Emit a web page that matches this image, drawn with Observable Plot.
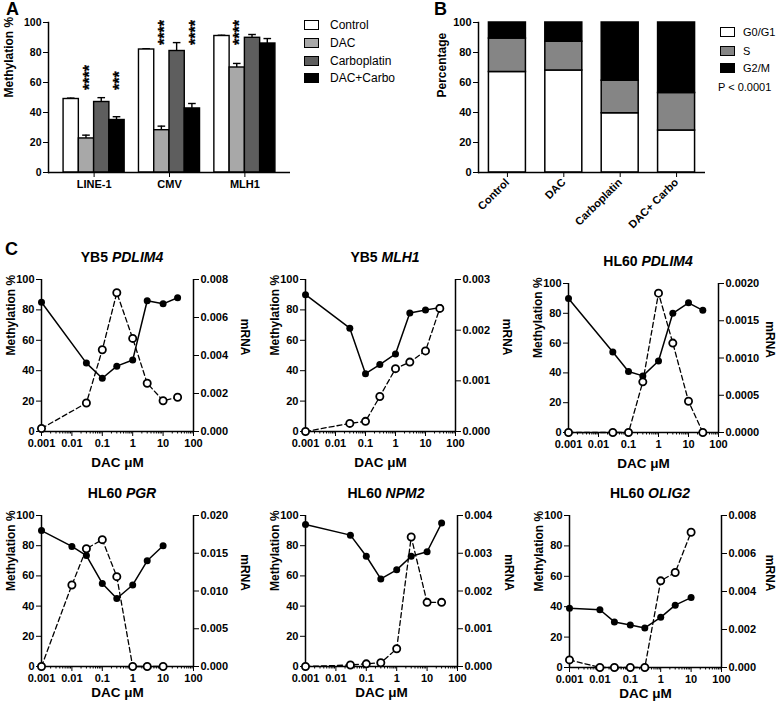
<!DOCTYPE html>
<html><head><meta charset="utf-8">
<script src="https://cdn.jsdelivr.net/npm/d3@7"></script>
<script src="https://cdn.jsdelivr.net/npm/@observablehq/plot@0.6"></script>
<style>
html,body{margin:0;padding:0;background:#fff;overflow:hidden}
#root{position:relative;width:778px;height:705px;overflow:hidden;font-family:"Liberation Sans",Arial,Helvetica,sans-serif;color:#000;background:#fff}
#root svg{position:absolute}
.letter{position:absolute;font-size:18px;font-weight:bold;line-height:18px}
.legrow{position:absolute;display:flex;align-items:center;white-space:nowrap;height:14px}
.sw{width:15px;height:10px;border:1.4px solid #000;box-sizing:border-box}
.title{position:absolute;font-size:14px;font-weight:bold;white-space:nowrap;transform:translate(-50%,-50%);line-height:16px}
</style></head><body><div id="root"></div>
<script>
// ---------------- Panel A data ----------------
const genesA = ["LINE-1", "CMV", "MLH1"];
const treatmentsA = ["Control", "DAC", "Carboplatin", "DAC+Carbo"];
const methControl = [49, 82, 91];
const errControl = [0.6, 0.5, 0.5];
const methDAC = [22.7, 28.2, 70];
const errDAC = [2.2, 2.7, 2.7];
const methCarbo = [47, 81, 89.8];
const errCarbo = [2.9, 5.6, 2.2];
const methDACCarbo = [35, 42.7, 86];
const errDACCarbo = [2.2, 3.3, 3.3];
const starGenes = ["LINE-1", "LINE-1", "CMV", "CMV", "MLH1"];
const starTreatments = ["DAC", "DAC+Carbo", "DAC", "DAC+Carbo", "DAC"];
const starLabels = ["****", "***", "****", "****", "****"];
const starBase = [55, 55, 85, 85, 85];

// ---------------- Panel B data ----------------
const conditionsB = ["Control", "DAC", "Carboplatin", "DAC+ Carbo"];
const phasesB = ["G0/G1", "S", "G2/M"];
const pctG0G1 = [67, 68, 39.5, 28];
const pctS = [22.3, 19.2, 21.7, 25];
const pctG2M = [10.7, 12.8, 38.8, 47];

// ---------------- Panel C data ----------------
const doseYB5PDLIM4 = [0.001, 0.03, 0.1, 0.3, 1, 3, 10, 30];
const methYB5PDLIM4 = [85, 45, 35, 43, 47, 86, 84, 88];
const mrnaYB5PDLIM4 = [0.00016, 0.0015, 0.0043, 0.0073, 0.0049, 0.00254, 0.00162, 0.0018];

const doseYB5MLH1 = [0.001, 0.03, 0.1, 0.3, 1, 3, 10, 30];
const methYB5MLH1 = [90, 68, 38, 44, 51, 78, 80, 81.5];
const mrnaYB5MLH1 = [0, 0.00016, 0.0002, 0.00069, 0.00124, 0.00137, 0.00159, 0.00243];

const doseHL60PDLIM4 = [0.001, 0.03, 0.1, 0.3, 1, 3, 10, 30];
const methHL60PDLIM4 = [90, 54, 41, 38, 48, 80, 87, 82];
const mrnaHL60PDLIM4 = [0, 0, 0, 0.00068, 0.00187, 0.0012, 0.00042, 0];

const doseHL60PGR = [0.001, 0.01, 0.03, 0.1, 0.3, 1, 3, 10];
const methHL60PGR = [90, 79.5, 73.5, 55, 45, 54, 70, 80];
const mrnaHL60PGR = [0, 0.0108, 0.0156, 0.0168, 0.0119, 0, 0, 0];

const doseHL60NPM2 = [0.001, 0.03, 0.1, 0.3, 1, 3, 10, 30];
const methHL60NPM2 = [94, 87, 73, 58, 64, 73, 76, 95];
const mrnaHL60NPM2 = [0, 0.00004, 0.00007, 0.0001, 0.00047, 0.00343, 0.0017, 0.0017];

const doseHL60OLIG2 = [0.001, 0.01, 0.03, 0.1, 0.3, 1, 3, 10];
const methHL60OLIG2 = [39, 38, 30, 28, 26, 33, 41, 46];
const mrnaHL60OLIG2 = [0.0004, 0, 0, 0, 0, 0.00456, 0.005, 0.00712];

const methTicks = [0, 20, 40, 60, 80, 100];
const doseTicks = [0.001, 0.01, 0.1, 1, 10, 100];

// ---------------- helpers ----------------
const root = document.getElementById("root");
const FONT = '"Liberation Sans", Arial, Helvetica, sans-serif';
function put(node, left, top) {
  node.style.left = left + "px";
  node.style.top = top + "px";
  root.appendChild(node);
  return node;
}
function el(tag, cls, html) {
  const n = document.createElement(tag);
  if (cls) n.className = cls;
  if (html != null) n.innerHTML = html;
  return n;
}
const svgStyle = {fontFamily: FONT, fontSize: "11px", fontWeight: "bold", color: "#000", background: "transparent", overflow: "visible"};

// ---------------- Panel A ----------------
const colorsA = ["#ffffff", "#a8a8a8", "#5e5e5e", "#000000"];
const meansA = [methControl, methDAC, methCarbo, methDACCarbo];
const errsA = [errControl, errDAC, errCarbo, errDACCarbo];
const rowsA = treatmentsA.flatMap((t, i) => genesA.map((g, j) => ({gene: g, treatment: t, value: meansA[i][j], err: errsA[i][j]})));
const starRows = starGenes.map((g, k) => ({gene: g, treatment: starTreatments[k], label: starLabels[k], y: starBase[k]}));

const wA = 300, hA = 200, mlA = 48, mrA = 10, mtA = 22, mbA = 28, piA = 0.19, poA = 0.2;
const stepA = (wA - mlA - mrA) / (genesA.length - piA + 2 * poA);
const bwA = stepA * (1 - piA), sA = bwA / 4;
const marksA = [];
treatmentsA.forEach((t, i) => {
  const d = rowsA.filter(r => r.treatment === t);
  const L = i * sA, R = (3 - i) * sA;
  marksA.push(Plot.barY(d, {x: "gene", y1: "value", y2: r => r.value + r.err, insetLeft: L + sA / 2 - 0.7, insetRight: R + sA / 2 - 0.7, fill: "#000"}));
  marksA.push(Plot.tickY(d, {x: "gene", y: r => r.value + r.err, insetLeft: L + sA * 0.25, insetRight: R + sA * 0.25, stroke: "#000", strokeWidth: 1.4}));
  marksA.push(Plot.barY(d, {x: "gene", y: "value", fill: "treatment", stroke: "#000", strokeWidth: 1.4, insetLeft: L, insetRight: R}));
  const st = starRows.filter(s => s.treatment === t);
  if (st.length) marksA.push(Plot.text(st, {x: "gene", y: "y", text: "label", rotate: -90, textAnchor: "start", lineAnchor: "middle", dx: (i + 0.5) * sA - bwA / 2 + 3, fontSize: 16, fontWeight: "bold", fill: "#000", stroke: "#000", strokeWidth: 0.3}));
});
const plotA = Plot.plot({
  width: wA, height: hA, marginLeft: mlA, marginRight: mrA, marginTop: mtA, marginBottom: mbA,
  style: {...svgStyle, fontSize: "10.5px"},
  x: {domain: genesA, paddingInner: piA, paddingOuter: poA, round: false},
  y: {domain: [0, 100]},
  color: {domain: treatmentsA, range: colorsA},
  marks: [
    ...marksA,
    Plot.axisY({ticks: methTicks, tickSize: 5, tickPadding: 2, label: null}),
    Plot.axisX({tickSize: 5, tickPadding: 3, label: null, fontSize: 11}),
    Plot.ruleY([0], {strokeWidth: 1.5}),
    Plot.frame({anchor: "left", strokeWidth: 1.5}),
    Plot.text(["Methylation %"], {frameAnchor: "left", rotate: -90, dx: -39, fontSize: 12, fontWeight: "bold"})
  ]
});
put(plotA, 0, 0);

// legend A
const legA = [25, 43, 61, 78];
treatmentsA.forEach((t, i) => {
  const row = el("div", "legrow");
  const sw = el("div", "sw"); sw.style.background = colorsA[i]; sw.style.marginRight = "11px";
  row.appendChild(sw);
  const tx = el("span", null, t); tx.style.fontSize = "12px";
  row.appendChild(tx);
  put(row, 304, legA[i] - 7);
});

// ---------------- Panel B ----------------
const colorsB = ["#ffffff", "#858585", "#000000"];
const pctsB = [pctG0G1, pctS, pctG2M];
const rowsB = conditionsB.flatMap((c, i) => phasesB.map((p, k) => ({condition: c, phase: p, pct: pctsB[k][i]})));
const plotB = Plot.plot({
  width: 310, height: 235, marginLeft: 78, marginRight: 5, marginTop: 22, marginBottom: 63,
  style: svgStyle,
  x: {domain: conditionsB, paddingInner: 0.344, paddingOuter: 0.185, round: false},
  y: {domain: [0, 100]},
  color: {domain: phasesB, range: colorsB},
  marks: [
    Plot.barY(rowsB, {x: "condition", y: "pct", fill: "phase", stroke: "#000", strokeWidth: 1.5}),
    Plot.axisY({ticks: methTicks, tickSize: 5, tickPadding: 2, label: null}),
    Plot.axisX({tickSize: 5, tickPadding: 3, tickRotate: -45, label: null}),
    Plot.ruleY([0], {strokeWidth: 1.5}),
    Plot.frame({anchor: "left", strokeWidth: 1.5}),
    Plot.text(["Percentage"], {frameAnchor: "left", rotate: -90, dx: -36, fontSize: 12, fontWeight: "bold"})
  ]
});
put(plotB, 400, 0);

const legB = [32, 51, 68];
phasesB.forEach((p, i) => {
  const row = el("div", "legrow");
  const sw = el("div", "sw"); sw.style.background = colorsB[i]; sw.style.marginRight = "8px";
  row.appendChild(sw);
  const tx = el("span", null, p); tx.style.fontSize = "11px";
  row.appendChild(tx);
  put(row, 720, legB[i] - 7);
});
{
  const row = el("div", "legrow", "P &lt; 0.0001"); row.style.fontSize = "11px";
  put(row, 718, 87 - 7);
}

// ---------------- Panel C ----------------
const minorTicks = doseTicks.slice(0, -1).flatMap(d => [2, 3, 4, 5, 6, 7, 8, 9].map(k => d * k));
const fmtDose = d3.format("~g");
function chartC(o) {
  const ML = 45, MR = 58, MT = 8, MB = 38;
  const W = (o.R - o.L) + ML + MR, H = (o.B - o.T) + MT + MB;
  const base = {width: W, height: H, marginLeft: ML, marginRight: MR, marginTop: MT, marginBottom: MB, style: svgStyle};
  const xs = {type: "log", domain: [0.001, 100]};
  const rows = o.dose.map((d, i) => ({dose: d, meth: o.meth[i], mrna: o.mrna[i]}));
  const p1 = Plot.plot({...base, x: xs, y: {domain: [0, 100]}, marks: [
    Plot.axisY({ticks: methTicks, tickSize: 5, tickPadding: 2, label: null}),
    Plot.axisX({ticks: doseTicks, tickFormat: fmtDose, tickSize: 5, tickPadding: 3, label: null}),
    Plot.axisX({ticks: minorTicks, tickFormat: () => "", tickSize: 2.5, label: null}),
    Plot.ruleY([0], {strokeWidth: 1.5}),
    Plot.ruleX([0.001], {strokeWidth: 1.5}),
    Plot.line(rows, {x: "dose", y: "meth", stroke: "#000", strokeWidth: 1.5}),
    Plot.dot(rows, {x: "dose", y: "meth", r: 3.5, fill: "#000"}),
    Plot.text(["Methylation %"], {frameAnchor: "left", rotate: -90, dx: -30, fontSize: 12, fontWeight: "bold"}),
    Plot.text(["DAC \u03bcM"], {frameAnchor: "bottom", dy: o.xlab, fontSize: 13.5, fontWeight: "bold"})
  ]});
  const rTicks = d3.range(0, o.max + o.step / 2, o.step);
  const p2 = Plot.plot({...base, x: {...xs, axis: null}, y: {domain: [0, o.max]}, marks: [
    Plot.axisY({anchor: "right", ticks: rTicks, tickFormat: d3.format("." + o.dec + "f"), tickSize: 5, tickPadding: 2, label: null}),
    Plot.ruleX([100], {strokeWidth: 1.5}),
    Plot.line(rows, {x: "dose", y: "mrna", stroke: "#000", strokeWidth: 1.3, strokeDasharray: "5,3"}),
    Plot.dot(rows, {x: "dose", y: "mrna", r: 3.6, fill: "#fff", stroke: "#000", strokeWidth: 1.8}),
    Plot.text(["mRNA"], {frameAnchor: "right", rotate: 90, dx: o.rlab, fontSize: 12, fontWeight: "bold"})
  ]});
  put(p1, o.L - ML, o.T - MT);
  put(p2, o.L - ML, o.T - MT);
  const t = el("div", "title", o.cell + " <i>" + o.gene + "</i>");
  put(t, (o.L + o.R) / 2 + 5, o.T - 22);
}

chartC({cell: "YB5", gene: "PDLIM4", dose: doseYB5PDLIM4, meth: methYB5PDLIM4, mrna: mrnaYB5PDLIM4, max: 0.008, step: 0.002, dec: 3, L: 41, R: 193, T: 279, B: 431, xlab: 35, rlab: 51});
chartC({cell: "YB5", gene: "MLH1", dose: doseYB5MLH1, meth: methYB5MLH1, mrna: mrnaYB5MLH1, max: 0.003, step: 0.001, dec: 3, L: 305, R: 455, T: 279, B: 431, xlab: 35, rlab: 51});
chartC({cell: "HL60", gene: "PDLIM4", dose: doseHL60PDLIM4, meth: methHL60PDLIM4, mrna: mrnaHL60PDLIM4, max: 0.002, step: 0.0005, dec: 4, L: 568, R: 718, T: 283, B: 432, xlab: 35, rlab: 51});
chartC({cell: "HL60", gene: "PGR", dose: doseHL60PGR, meth: methHL60PGR, mrna: mrnaHL60PGR, max: 0.02, step: 0.005, dec: 3, L: 41, R: 193, T: 515, B: 666, xlab: 30, rlab: 51});
chartC({cell: "HL60", gene: "NPM2", dose: doseHL60NPM2, meth: methHL60NPM2, mrna: mrnaHL60NPM2, max: 0.004, step: 0.001, dec: 3, L: 305, R: 457, T: 515, B: 666, xlab: 30, rlab: 51});
chartC({cell: "HL60", gene: "OLIG2", dose: doseHL60OLIG2, meth: methHL60OLIG2, mrna: mrnaHL60OLIG2, max: 0.008, step: 0.002, dec: 3, L: 569, R: 721, T: 515, B: 667, xlab: 30, rlab: 48});

// panel letters
put(el("div", "letter", "A"), 6, 0);
put(el("div", "letter", "B"), 434, 0);
put(el("div", "letter", "C"), 5, 240);
</script></body></html>
